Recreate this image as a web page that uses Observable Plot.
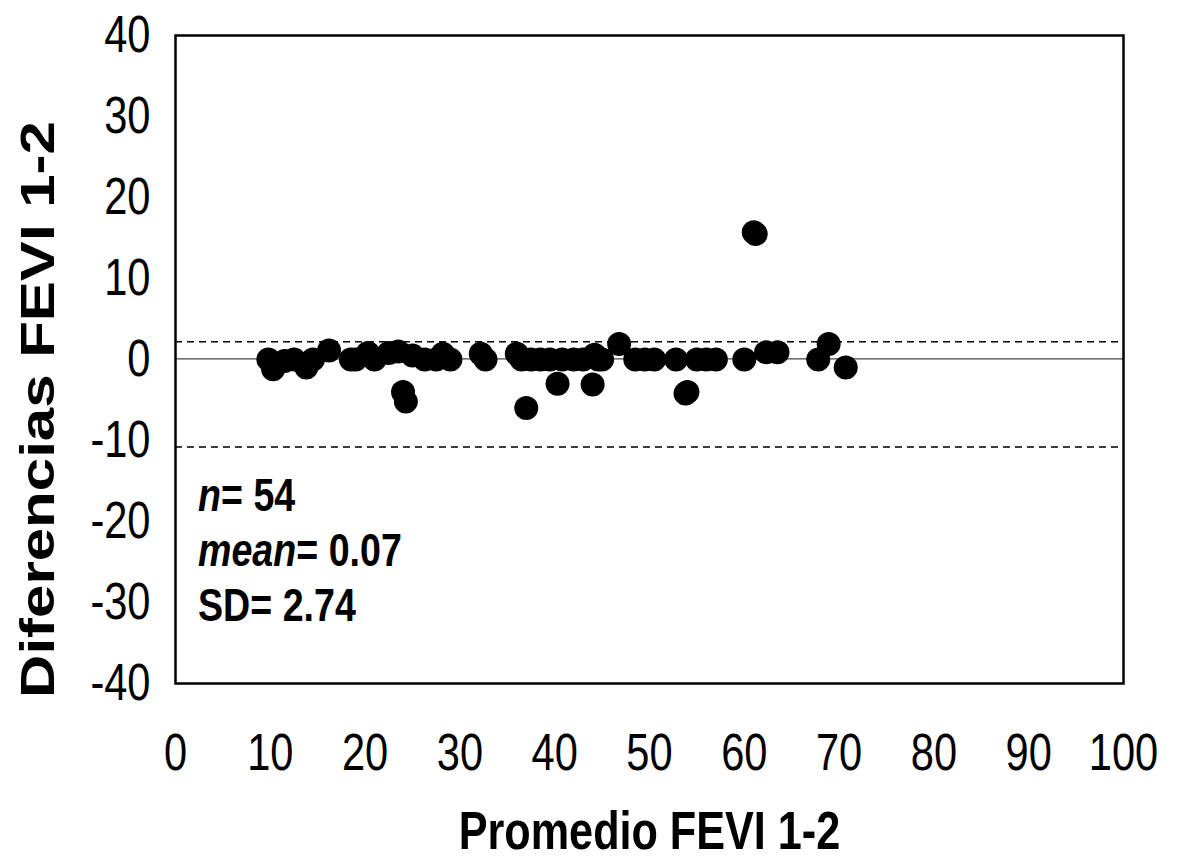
<!DOCTYPE html>
<html>
<head>
<meta charset="utf-8">
<script src="https://cdn.jsdelivr.net/npm/d3@7"></script>
<script src="https://cdn.jsdelivr.net/npm/@observablehq/plot@0.6"></script>
<style>
  html, body { margin: 0; padding: 0; background: #fff; }
  #wrap { position: relative; width: 1181px; height: 864px; }
  #notes {
    position: absolute; left: 198px; top: 467px;
    font-family: "Liberation Sans", Arial, sans-serif;
    font-weight: bold; font-size: 47px; line-height: 55px; color: #000;
    transform: scaleX(0.8); transform-origin: 0 0; white-space: nowrap;
  }
  #notes i { font-style: italic; }
</style>
</head>
<body>
<div id="wrap"></div>
<script>
// Bland-Altman data: average of the two measurements (x) vs difference (y)
const xAvg = [
  9.8, 10.3, 11.5, 12.5, 13.8, 14.5, 16.2, 18.5, 19.0, 20.3,
  21.0, 22.5, 23.5, 24.0, 24.3, 25.0, 26.3, 27.5, 28.2, 32.2,
  32.7, 36.0, 36.5, 37.0, 37.5, 38.5, 39.5, 40.3, 40.8, 42.0,
  43.0, 44.0, 44.2, 44.6, 45.0, 46.8, 48.5, 49.5, 50.5, 52.8,
  53.8, 54.0, 55.0, 56.0, 57.0, 60.0, 61.0, 61.2, 62.3, 63.5,
  67.8, 68.9, 70.7, 29.0
];
const yDiff = [
  0.0, -1.2, -0.2, 0.0, -1.0, 0.0, 1.1, 0.0, 0.0, 0.8,
  0.0, 0.8, 1.0, -4.0, -5.2, 0.5, 0.0, 0.0, 0.7, 0.7,
  0.0, 0.7, 0.0, -6.0, 0.0, 0.0, 0.0, -3.0, 0.0, 0.0,
  0.0, -3.1, 0.6, 0.0, 0.0, 1.9, 0.0, 0.0, 0.0, 0.0,
  -4.2, -4.0, 0.0, 0.0, 0.0, 0.0, 15.7, 15.5, 0.9, 0.9,
  0.0, 1.9, -1.0, 0.0
];
const meanLine = [0.07];
const limitLines = [2.2, -10.8];
const xTicks = [0, 10, 20, 30, 40, 50, 60, 70, 80, 90, 100];
const yTicks = [40, 30, 20, 10, 0, -10, -20, -30, -40];
const xTitle = "Promedio FEVI 1-2";
const yTitle = "Diferencias FEVI 1-2";

const points = xAvg.map((x, i) => ({x, y: yDiff[i]}));

const chart = Plot.plot({
  width: 1181,
  height: 864,
  marginLeft: 175,
  marginRight: 58,
  marginTop: 35,
  marginBottom: 181,
  style: {fontFamily: '"Liberation Sans", Arial, sans-serif', color: "#000", background: "#fff"},
  x: {domain: [0, 100]},
  y: {domain: [-40, 40]},
  marks: [
    Plot.ruleY(meanLine, {stroke: "#444", strokeWidth: 1.2}),
    Plot.ruleY(limitLines, {stroke: "#000", strokeWidth: 1.5, strokeDasharray: "7,5"}),
    Plot.dot(points, {x: "x", y: "y", r: 12, fill: "#000", stroke: "none"}),
    Plot.frame({stroke: "#000", strokeWidth: 2.5}),
    Plot.axisX({ticks: xTicks, tickSize: 0, tickPadding: 50, fontSize: 52, label: null, tickFormat: d => String(d)}),
    Plot.axisY({ticks: yTicks, tickSize: 0, tickPadding: 25, fontSize: 52, label: null, tickFormat: d => String(d)}),
    Plot.text([xTitle], {text: d => d, frameAnchor: "bottom", textAnchor: "middle", lineAnchor: "middle", dy: 148, fontSize: 54, fontWeight: "bold"}),
    Plot.text([yTitle], {text: d => d, frameAnchor: "left", textAnchor: "middle", lineAnchor: "middle", rotate: -90, dx: -137, dy: 50, fontSize: 60, fontWeight: "bold"})
  ]
});

// horizontally condense every text, as in the reference (narrow lettering)
chart.querySelectorAll("text").forEach(t => {
  const tr = t.getAttribute("transform");
  if (tr && /^translate\([^)]*\)/.test(tr)) {
    t.setAttribute("transform", tr.replace(/^(translate\([^)]*\))/, "$1 scale(0.8,1)"));
  }
});

const wrap = document.getElementById("wrap");
wrap.appendChild(chart);
const notes = document.createElement("div");
notes.id = "notes";
notes.innerHTML = "<div><i>n</i>= 54</div><div><i>mean</i>= 0.07</div><div>SD= 2.74</div>";
wrap.appendChild(notes);
</script>
</body>
</html>
